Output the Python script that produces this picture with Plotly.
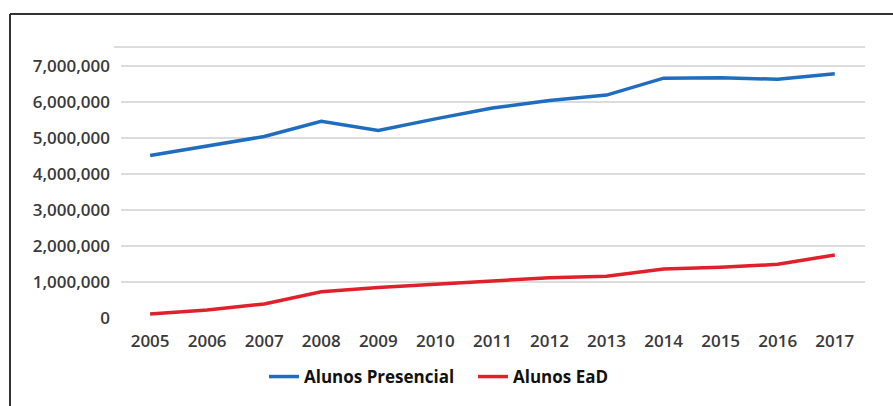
import plotly.graph_objects as go

years = [2005, 2006, 2007, 2008, 2009, 2010, 2011, 2012, 2013, 2014, 2015, 2016, 2017]
presencial = [4510000, 4770000, 5040000, 5460000, 5210000, 5530000, 5830000, 6040000, 6190000, 6660000, 6670000, 6630000, 6780000]
ead = [110000, 220000, 390000, 730000, 850000, 940000, 1010000, 1120000, 1160000, 1360000, 1410000, 1490000, 1750000]
series_names = ["Alunos Presencial", "Alunos EaD"]
y_ticks = [0, 1000000, 2000000, 3000000, 4000000, 5000000, 6000000, 7000000]
y_tick_labels = ["0", "1,000,000", "2,000,000", "3,000,000", "4,000,000", "5,000,000", "6,000,000", "7,000,000"]

W, H = 893, 406
L, R, T, B = 121, 865, 47, 319


def px(X):
    return (X - L) / (R - L)


def py(Y):
    return (B - Y) / (B - T)


fig = go.Figure()
fig.add_trace(go.Scatter(x=years, y=presencial, mode="lines", name=series_names[0],
                         line=dict(color="#1f6dbf", width=3.5)))
fig.add_trace(go.Scatter(x=years, y=ead, mode="lines", name=series_names[1],
                         line=dict(color="#e0202b", width=3.5)))

tickfont = dict(family="Open Sans", size=17, color="#3a3a3a", weight=600)

fig.update_layout(
    width=W, height=H,
    margin=dict(l=L, r=W - R, t=T, b=H - B, pad=0),
    paper_bgcolor="white", plot_bgcolor="white",
    showlegend=True,
    legend=dict(orientation="h", x=px(264), y=py(377), xanchor="left", yanchor="middle",
                font=dict(family="Open Sans", size=17, color="#111111", weight=700),
                itemwidth=30, entrywidth=164, entrywidthmode="pixels",
                bgcolor="rgba(0,0,0,0)", tracegroupgap=0),
    xaxis=dict(range=[2004.49, 2017.53], tickmode="array", tickvals=years,
               ticktext=[str(y) for y in years], showgrid=False, zeroline=False,
               showline=False, tickfont=tickfont, ticklabelstandoff=11, fixedrange=True),
    yaxis=dict(range=[0, 7526000], tickmode="array", tickvals=y_ticks, ticktext=y_tick_labels,
               showgrid=True, gridcolor="#dcdcdc", gridwidth=2, zeroline=False, showline=False,
               tickfont=tickfont, ticklabelstandoff=10, fixedrange=True),
    shapes=[
        dict(type="line", xref="paper", yref="paper", x0=px(114), x1=px(865), y0=py(47), y1=py(47),
             line=dict(color="#dcdcdc", width=2), layer="below"),
        dict(type="line", xref="paper", yref="paper", x0=px(10), x1=px(10), y0=py(14), y1=py(420),
             line=dict(color="#333333", width=2)),
        dict(type="line", xref="paper", yref="paper", x0=px(10), x1=px(900), y0=py(14), y1=py(14),
             line=dict(color="#333333", width=2)),
    ],
)

fig.write_html("out.html")
